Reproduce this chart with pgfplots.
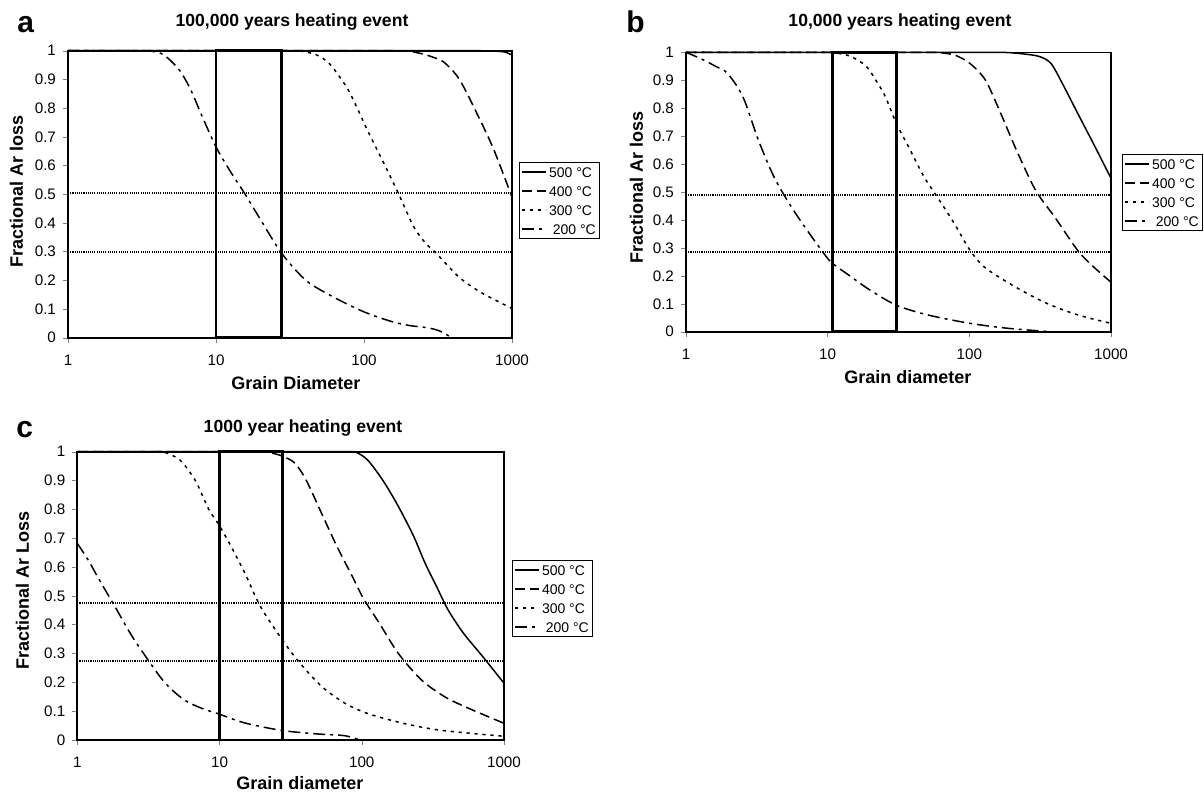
\documentclass[border=0pt]{standalone}
\usepackage{pgfplots}
\pgfplotsset{compat=1.18}
\usepackage{fontspec}
\setmainfont{Liberation Sans}
\newcommand{\fs}[1]{\fontsize{#1}{#1}\selectfont}
\pgfplotsset{
  legend image code/.code={\draw[#1] (0pt,0pt) -- (12pt,0pt);},
  every axis/.append style={
    scale only axis,
    xmin=1, xmax=1000, ymin=0, ymax=1,
    xtick={1,10,100,1000}, xticklabels={1,10,100,1000},
    ytick={0,0.1,0.2,0.3,0.4,0.5,0.6,0.7,0.8,0.9,1},
    xminorticks=false,
    tick align=outside, tick pos=left,
    major tick length=2.5pt,
    /pgf/number format/assume math mode=true,
    yticklabel style={/pgf/number format/fixed, /pgf/number format/precision=1},
    tick label style={font=\fs{7.6}},
    xticklabel style={yshift=-2.5pt},
    axis line style={line width=0.8pt},
    clip=false,
    title style={font=\bfseries\fs{8.8}, anchor=base, yshift=-6pt},
    label style={font=\bfseries\fs{9}},
    legend style={font=\fs{7}, draw=black, line width=0.5pt, inner xsep=1pt, inner ysep=0.8pt,
      anchor=north west, row sep=1.7pt, column sep=0pt,
      nodes={inner ysep=1pt, inner xsep=1pt, text height=5.6pt, text depth=0.2pt}},
    legend cell align=left,
  },
  s500/.style={black, line width=0.75pt, smooth, tension=0.5},
  s400/.style={black, line width=0.75pt, smooth, tension=0.5, dash pattern=on 5pt off 2.5pt},
  s300/.style={black, line width=0.75pt, smooth, tension=0.5, dash pattern=on 1.6pt off 2.4pt},
  s200/.style={black, line width=0.75pt, smooth, tension=0.5, dash pattern=on 6pt off 2.5pt on 1.5pt off 2.5pt},
  sref/.style={black, line width=1.1pt, dash pattern=on 0.55pt off 0.55pt, forget plot},
  sbox/.style={black, line width=1.4pt, line join=miter, forget plot},
}
\begin{document}
\begin{tikzpicture}
\path[use as bounding box] (0pt,0pt) rectangle (602pt,-397pt);
% panel letters
\node[anchor=base west, font=\bfseries\fs{15}, inner sep=0pt] at (8.5pt,-16pt) {a};
\node[anchor=base west, font=\bfseries\fs{15}, inner sep=0pt] at (313pt,-16pt) {b};
\node[anchor=base west, font=\bfseries\fs{15}, inner sep=0pt] at (8pt,-218.5pt) {c};

% ---------------- panel a
\begin{semilogxaxis}[at={(34pt,-168.85pt)}, anchor=south west, width=222pt, height=143.5pt,
  title={100,000 years heating event}, title style={at={(0.5045,1.0836)}},
  xlabel={Grain Diameter}, xlabel style={at={(axis description cs:0.5135,-0.179)}, anchor=base},
  ylabel={Fractional Ar loss}, ylabel style={at={(axis description cs:-0.1014,0.511)}, anchor=base},
  legend style={at={(1.0158,0.6122)}}]
\addplot[sref] coordinates {(1,0.505) (1000,0.505)};
\addplot[sref] coordinates {(1,0.30) (1000,0.30)};
\addplot[sbox] coordinates {(10,0) (10,1) (27.8,1) (27.8,0) (10,0)};
\addplot[s500] coordinates {(1,1) (100,1) (400,1) (600,1) (800,0.998) (900,0.995) (1000,0.985)};
\addplot[s400] coordinates {(1,1) (50,1) (120,1) (160,1) (200,0.998) (243,0.99) (290,0.978) (347,0.96) (441,0.90) (594,0.77) (755,0.654) (1000,0.49)};
\addplot[s300] coordinates {(1,1) (15,1) (25,1) (31,1) (38,0.998) (48,0.985) (57,0.96) (65,0.925) (78,0.865) (90,0.8) (105,0.725) (134,0.615) (170,0.505) (215,0.39) (260,0.33) (308,0.294) (441,0.21) (631,0.155) (1000,0.102)};
\addplot[s200] coordinates {(1,1) (2,1) (2.6,1) (3.2,1) (3.7,0.998) (4.45,0.985) (5.65,0.933) (6.76,0.863) (8.08,0.77) (10,0.665) (12.3,0.585) (15.6,0.503) (19.8,0.415) (27.8,0.294) (40.5,0.20) (61.5,0.143) (99,0.091) (150,0.058) (200,0.043) (273,0.034) (330,0.022) (390,0)};
\legend{500~°C, 400~°C, 300~°C, \ 200~°C}
\end{semilogxaxis}

% ---------------- panel b
\begin{semilogxaxis}[at={(343pt,-165.85pt)}, anchor=south west, width=212.5pt, height=139.7pt,
  title={10,000 years heating event}, title style={at={(0.5035,1.094)}},
  xlabel={Grain diameter}, xlabel style={at={(axis description cs:0.522,-0.1836)}, anchor=base},
  ylabel={Fractional Ar loss}, ylabel style={at={(axis description cs:-0.1012,0.516)}, anchor=base},
  legend style={at={(1.0259,0.636)}}]
\addplot[sref] coordinates {(1,0.489) (1000,0.489)};
\addplot[sref] coordinates {(1,0.286) (1000,0.286)};
\addplot[sbox] coordinates {(10.8,0) (10.8,1) (30.5,1) (30.5,0) (10.8,0)};
\addplot[s500] coordinates {(1,1) (100,1) (150,1) (189,0.999) (243,0.994) (312,0.985) (377,0.96) (454,0.888) (584,0.78) (750,0.674) (1000,0.549)};
\addplot[s400] coordinates {(1,1) (25,1) (40,1) (50,1) (61,0.999) (79,0.99) (101,0.96) (130,0.90) (167,0.78) (215,0.65) (293,0.507) (401,0.41) (584,0.29) (750,0.233) (1000,0.177)};
\addplot[s300] coordinates {(1,1) (6,1) (8,1) (9.5,1) (11.3,0.998) (14.6,0.985) (18.7,0.95) (22.5,0.89) (25.6,0.84) (30.5,0.746) (37.2,0.662) (47.8,0.555) (61.4,0.471) (78.8,0.385) (101,0.292) (130,0.228) (215,0.158) (354,0.101) (584,0.06) (1000,0.03)};
\addplot[s200] coordinates {(1,1) (1.3,0.975) (1.63,0.949) (1.96,0.925) (2.52,0.841) (3.24,0.686) (4.17,0.555) (5.35,0.459) (6.87,0.376) (9.4,0.28) (10.8,0.245) (14.6,0.197) (19.9,0.149) (30.5,0.095) (50.9,0.06) (101,0.03) (189,0.012) (377,0)};
\legend{500~°C, 400~°C, 300~°C, \ 200~°C}
\end{semilogxaxis}

% ---------------- panel c
\begin{semilogxaxis}[at={(38.65pt,-370pt)}, anchor=south west, width=213.35pt, height=144.15pt,
  title={1000 year heating event}, title style={at={(0.529,1.068)}},
  xlabel={Grain diameter}, xlabel style={at={(axis description cs:0.5216,-0.170)}, anchor=base},
  ylabel={Fractional Ar Loss}, ylabel style={at={(axis description cs:-0.1132,0.517)}, anchor=base},
  legend style={at={(1.0188,0.624)}}]
\addplot[sref] coordinates {(1,0.475) (1000,0.475)};
\addplot[sref] coordinates {(1,0.275) (1000,0.275)};
\addplot[sbox] coordinates {(10,0) (10,1) (27.6,1) (27.6,0) (10,0)};
\addplot[s500] coordinates {(1,1) (40,1) (60,1) (76,1) (91,0.998) (110,0.971) (141,0.90) (181,0.81) (232,0.706) (279,0.613) (336,0.532) (405,0.451) (518,0.371) (707,0.29) (1000,0.197)};
\addplot[s400] coordinates {(1,1) (10,1) (15,1) (18.5,1) (21.9,0.998) (27.6,0.985) (33.9,0.96) (40.8,0.90) (52.2,0.786) (67,0.671) (85.9,0.567) (103,0.49) (133,0.405) (181,0.30) (262,0.209) (380,0.151) (552,0.112) (1000,0.058)};
\addplot[s300] coordinates {(1,1) (2,1) (2.8,1) (3.5,1) (4.1,0.998) (5.27,0.971) (6.76,0.90) (8.4,0.8) (9.8,0.75) (11.8,0.68) (15.1,0.578) (19.4,0.463) (27.6,0.348) (36,0.272) (52.2,0.186) (75.9,0.128) (110,0.092) (192,0.059) (357,0.034) (1000,0.013)};
\addplot[s200] coordinates {(1,0.682) (1.19,0.625) (1.43,0.555) (1.84,0.463) (2.35,0.371) (3.02,0.29) (4.11,0.2) (5.61,0.14) (7.5,0.11) (9.8,0.091) (15.1,0.059) (27.6,0.033) (49,0.021) (75.9,0.015) (97,0)};
\legend{500~°C, 400~°C, 300~°C, \ 200~°C}
\end{semilogxaxis}
\end{tikzpicture}
\end{document}
